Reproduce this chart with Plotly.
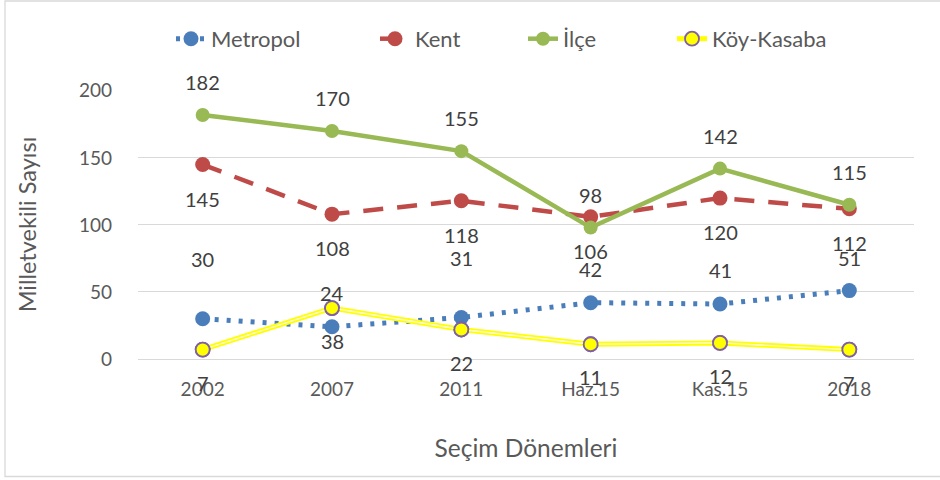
import plotly.graph_objects as go

categories = ["2002", "2007", "2011", "Haz.15", "Kas.15", "2018"]
metropol = [30, 24, 31, 42, 41, 51]
kent = [145, 108, 118, 106, 120, 112]
ilce = [182, 170, 155, 98, 142, 115]
koy_kasaba = [7, 38, 22, 11, 12, 7]

y_ticks = [0, 50, 100, 150, 200]

FONT = "Lato"
TICK_COLOR = "#595959"
LABEL_COLOR = "#404040"

BLUE = "#4A7EBB"
RED = "#BE4B48"
GREEN = "#98B954"
YELLOW = "#FFFF00"
PURPLE = "#7F5FA8"

fig = go.Figure()

fig.add_trace(go.Scatter(
    x=categories, y=metropol, name="Metropol", mode="lines+markers",
    line=dict(color=BLUE, width=5, dash="4px,8px"),
    marker=dict(size=15, color=BLUE), legend="legend",
))
fig.add_trace(go.Scatter(
    x=categories, y=kent, name="Kent", mode="lines+markers",
    line=dict(color=RED, width=4.5, dash="20px,14px"),
    marker=dict(size=15, color=RED), legend="legend2",
))
fig.add_trace(go.Scatter(
    x=categories, y=ilce, name="İlçe", mode="lines+markers",
    line=dict(color=GREEN, width=4.5),
    marker=dict(size=14, color=GREEN), legend="legend3",
))
# double yellow line for Köy-Kasaba
fig.add_trace(go.Scatter(
    x=categories, y=koy_kasaba, name="Köy-Kasaba", mode="lines+markers",
    line=dict(color=YELLOW, width=5),
    marker=dict(size=14, color=YELLOW, line=dict(color=PURPLE, width=1.8)),
    legend="legend4",
))
fig.add_trace(go.Scatter(
    x=categories, y=koy_kasaba, name="Köy-Kasaba", mode="lines",
    line=dict(color="#FFFFE0", width=1.4), showlegend=False, hoverinfo="skip",
))
fig.add_trace(go.Scatter(
    x=categories, y=koy_kasaba, name="Köy-Kasaba", mode="markers",
    marker=dict(size=14, color=YELLOW, line=dict(color=PURPLE, width=1.8)),
    showlegend=False,
))

# data labels (x given as category index)
label_font = dict(family=FONT, size=20, color=LABEL_COLOR)
metropol_shift = [60, 34, 59, 34, 34, 33]
for i, (v, s) in enumerate(zip(metropol, metropol_shift)):
    fig.add_annotation(x=i, y=v, text=str(v), showarrow=False, yshift=s, font=label_font)
for i, v in enumerate(kent):
    fig.add_annotation(x=i, y=v, text=str(v), showarrow=False, yshift=-34, font=label_font)
for i, v in enumerate(ilce):
    fig.add_annotation(x=i, y=v, text=str(v), showarrow=False, yshift=33, font=label_font)
for i, v in enumerate(koy_kasaba):
    fig.add_annotation(x=i, y=v, text=str(v), showarrow=False, yshift=-33, font=label_font)

legend_common = dict(
    orientation="h", yanchor="middle", y=1.19, xanchor="left",
    font=dict(family=FONT, size=22, color=TICK_COLOR),
    bgcolor="rgba(0,0,0,0)", itemsizing="trace",
)
fig.update_layout(
    legend=dict(x=(171 - 138) / 776, **legend_common),
    legend2=dict(x=(375 - 138) / 776, **legend_common),
    legend3=dict(x=(523 - 138) / 776, **legend_common),
    legend4=dict(x=(672 - 138) / 776, **legend_common),
)

fig.update_layout(
    width=940, height=480,
    margin=dict(l=138, r=26, t=90, b=121),
    paper_bgcolor="white", plot_bgcolor="white",
    font=dict(family=FONT, size=19, color=TICK_COLOR),
    showlegend=True,
    xaxis=dict(
        type="category", range=[-0.5, 5.5], showgrid=False, showline=False,
        ticks="", ticklabelstandoff=17,
        tickfont=dict(family=FONT, size=19, color=TICK_COLOR),
        title=dict(text="Seçim Dönemleri", standoff=40,
                   font=dict(family=FONT, size=24.5, color=TICK_COLOR)),
    ),
    yaxis=dict(
        range=[0, 200.6], tickvals=y_ticks, showgrid=True, gridcolor="#D9D9D9",
        gridwidth=1.3, zeroline=True, zerolinecolor="#D9D9D9", zerolinewidth=1.3,
        showline=False, ticks="", ticklabelstandoff=25,
        tickfont=dict(family=FONT, size=19, color=TICK_COLOR),
        title=dict(text="Milletvekili Sayısı", standoff=35,
                   font=dict(family=FONT, size=23.5, color=TICK_COLOR)),
    ),
    shapes=[dict(
        type="rect", xref="paper", yref="paper",
        x0=(5 - 138) / 776, x1=(945 - 138) / 776,
        y0=(359 - 476.5) / 269, y1=(359 - 1) / 269,
        line=dict(color="#D9D9D9", width=1.3), layer="below",
    )],
)

fig.write_html("out.html", config={"displayModeBar": False},
               post_script="document.body.style.margin='0px';")
